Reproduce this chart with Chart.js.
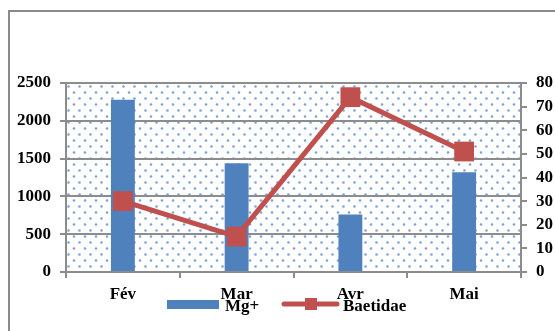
<!DOCTYPE html>
<html>
<head>
<meta charset="utf-8">
<script src="https://cdn.jsdelivr.net/npm/chart.js@4"></script>
<style>
  html, body { margin: 0; padding: 0; overflow: hidden; background: #fff; }
  #frame { position: absolute; left: 8px; top: 10px; width: 700px; height: 400px;
           border-left: 2px solid #8a8a8a; border-top: 2px solid #8a8a8a; }
  #myChart { position: absolute; left: 0; top: 0; }
</style>
</head>
<body>
<div id="frame"></div>
<canvas id="myChart" width="620" height="360"></canvas>
<script>
const months = ['Fév', 'Mar', 'Avr', 'Mai'];
const mgValues = [2280, 1440, 760, 1320];
const baetidaeValues = [30, 15, 74, 51];
const leftTicks = [0, 500, 1000, 1500, 2000, 2500];
const rightTicks = [0, 10, 20, 30, 40, 50, 60, 70, 80];

const labelFont = { family: '"Liberation Serif", "Times New Roman", serif', size: 17, weight: 'bold' };
const gridGray = '#8c8c8c';

// dotted fill behind the plot
const dotsBg = {
    id: 'dotsBg',
    beforeDraw(chart) {
        const a = chart.chartArea;
        const tile = document.createElement('canvas');
        tile.width = 11; tile.height = 12;
        const t = tile.getContext('2d');
        t.fillStyle = '#fff';
        t.fillRect(0, 0, 11, 12);
        t.fillStyle = '#7ea3d8';
        t.beginPath(); t.arc(2.5, 2.5, 1.3, 0, Math.PI * 2); t.fill();
        t.beginPath(); t.arc(8, 8.5, 1.3, 0, Math.PI * 2); t.fill();
        const ctx = chart.ctx;
        ctx.save();
        ctx.fillStyle = ctx.createPattern(tile, 'repeat');
        ctx.fillRect(a.left, a.top, a.right - a.left, a.bottom - a.top);
        ctx.restore();
    }
};

// legend drawn over the x labels like in the original
const overLegend = {
    id: 'overLegend',
    afterDraw(chart) {
        const ctx = chart.ctx;
        const bars = chart.data.datasets[0];
        const line = chart.data.datasets[1];
        ctx.save();
        ctx.font = 'bold 17px "Liberation Serif", serif';
        ctx.textBaseline = 'alphabetic';
        ctx.fillStyle = bars.backgroundColor;
        ctx.fillRect(167, 300, 52, 9);
        ctx.fillStyle = '#000';
        ctx.fillText(bars.label, 225, 311);
        ctx.strokeStyle = line.borderColor;
        ctx.lineWidth = 5;
        ctx.lineCap = 'round';
        ctx.beginPath(); ctx.moveTo(284, 304); ctx.lineTo(337, 304); ctx.stroke();
        ctx.fillStyle = line.borderColor;
        ctx.fillRect(305, 298, 12, 12);
        ctx.fillStyle = '#000';
        ctx.fillText(line.label, 343, 311);
        ctx.restore();
    }
};

new Chart(document.getElementById('myChart'), {
    type: 'bar',
    data: {
        labels: months,
        datasets: [{
            label: 'Mg+',
            data: mgValues,
            yAxisID: 'y',
            backgroundColor: '#4F81BD',
            barPercentage: 0.21,
            categoryPercentage: 1,
            order: 1
        }, {
            type: 'line',
            label: 'Baetidae',
            data: baetidaeValues,
            yAxisID: 'y1',
            borderColor: '#C0504D',
            backgroundColor: '#C0504D',
            borderWidth: 5,
            pointStyle: 'rect',
            pointRadius: 14,
            pointBorderWidth: 0,
            pointBackgroundColor: '#C0504D',
            order: 0
        }]
    },
    options: {
        responsive: false,
        animation: false,
        layout: { padding: { top: 83, left: 0, right: 0, bottom: 0 } },
        plugins: {
            legend: { display: false },
            tooltip: { enabled: false }
        },
        scales: {
            x: {
                afterFit: s => { s.height = 88; },
                grid: { drawOnChartArea: false, color: gridGray, lineWidth: 2, tickLength: 6 },
                border: { color: gridGray, width: 2 },
                ticks: { color: '#000', font: labelFont, padding: 6 }
            },
            y: {
                position: 'left',
                min: 0, max: 2500,
                afterFit: s => { s.width = 66; },
                afterBuildTicks: s => { s.ticks = leftTicks.map(v => ({ value: v })); },
                grid: { color: gridGray, lineWidth: 2, tickLength: 6 },
                border: { color: gridGray, width: 2 },
                ticks: { color: '#000', font: labelFont, padding: 9, callback: v => String(v) }
            },
            y1: {
                position: 'right',
                min: 0, max: 80,
                afterFit: s => { s.width = 99; },
                afterBuildTicks: s => { s.ticks = rightTicks.map(v => ({ value: v })); },
                grid: { drawOnChartArea: false, color: gridGray, lineWidth: 2, tickLength: 6 },
                border: { color: gridGray, width: 2 },
                ticks: { color: '#000', font: labelFont, padding: 9, callback: v => String(v) }
            }
        }
    },
    plugins: [dotsBg, overLegend]
});
</script>
</body>
</html>
